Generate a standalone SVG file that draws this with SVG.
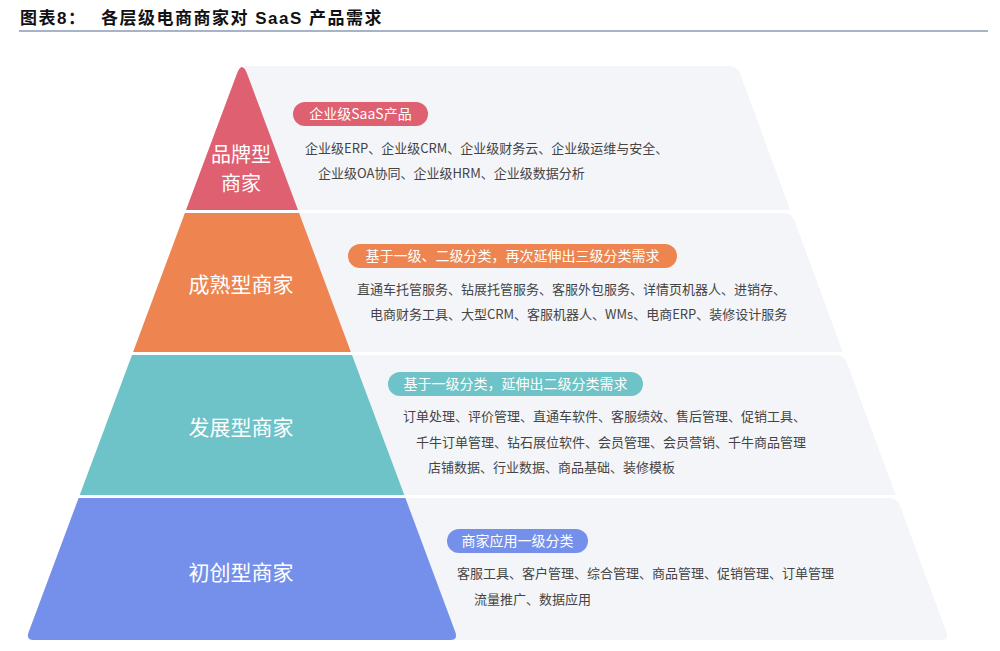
<svg xmlns="http://www.w3.org/2000/svg" width="1000" height="651" viewBox="0 0 1000 651">
<style>
.title{font-family:"Liberation Sans","Noto Sans CJK SC",sans-serif;font-weight:bold;font-size:17px;fill:#111;letter-spacing:1.5px}
.lbl{font-family:"Noto Sans CJK SC",sans-serif;font-size:21px;fill:#fff;text-anchor:middle}
.lbl2{font-family:"Noto Sans CJK SC",sans-serif;font-size:20px;fill:#fff;text-anchor:middle}
.pill{font-family:"Noto Sans CJK SC",sans-serif;font-size:14px;fill:#fff;text-anchor:middle}
.item{font-family:"Noto Sans CJK SC",sans-serif;font-size:13px;fill:#444}
.bg{fill:#f4f5f9}
</style>
<rect width="1000" height="651" fill="#fff"/>
<g id="title">
<text class="title" x="20" y="24">图表8：</text>
<text class="title" x="101" y="24">各层级电商商家对 SaaS 产品需求</text>
<line x1="19" y1="31" x2="988" y2="31" stroke="#8a9bb5" stroke-width="1.5"/>
</g>
<g id="backgrounds">
<path class="bg" d="M244,66 L729,66 Q737,66 740,73.4 L790.3,210 L290,210 Z"/>
<path class="bg" d="M289,213 L784,213 Q791.4,213 794.4,220.4 L842.8,352 L341,352 Z"/>
<path class="bg" d="M342,355 L836,355 Q843.9,355 846.9,362.4 L895.7,495 L394,495 Z"/>
<path class="bg" d="M395,498 L889,498 Q896.8,498 899.8,505.4 L946.4,632 Q949.4,640 941.4,640 L448,640 Z"/>
</g>
<g id="tier-brand">
<path d="M186,210 L236.8,74 Q242,60 247.2,74 L298,210 Z" fill="#df6070"/>
<text class="lbl2" x="241" y="162">品牌型</text>
<text class="lbl2" x="241" y="190.5">商家</text>
<rect x="293" y="102" width="135" height="24" rx="12" fill="#df6070"/>
<text class="pill" x="360.5" y="119">企业级SaaS产品</text>
<text class="item" x="305" y="152.5">企业级ERP、企业级CRM、企业级财务云、企业级运维与安全、</text>
<text class="item" x="318" y="177.5">企业级OA协同、企业级HRM、企业级数据分析</text>
</g>
<g id="tier-mature">
<path d="M184.9,213 L299.1,213 L350.9,352 L133.1,352 Z" fill="#ee844f"/>
<text class="lbl" x="241" y="291.5">成熟型商家</text>
<rect x="348" y="244" width="329" height="24" rx="12" fill="#ee844f"/>
<text class="pill" x="512.5" y="261">基于一级、二级分类，再次延伸出三级分类需求</text>
<text class="item" x="357" y="293.5">直通车托管服务、钻展托管服务、客服外包服务、详情页机器人、进销存、</text>
<text class="item" x="370" y="318.5">电商财务工具、大型CRM、客服机器人、WMs、电商ERP、装修设计服务</text>
</g>
<g id="tier-growth">
<path d="M132,355 L352,355 L404.3,495 L79.7,495 Z" fill="#6dc3c7"/>
<text class="lbl" x="241" y="434.5">发展型商家</text>
<rect x="388" y="372" width="255" height="24" rx="12" fill="#6dc3c7"/>
<text class="pill" x="515.5" y="389">基于一级分类，延伸出二级分类需求</text>
<text class="item" x="403" y="420.5">订单处理、评价管理、直通车软件、客服绩效、售后管理、促销工具、</text>
<text class="item" x="416" y="446.5">千牛订单管理、钻石展位软件、会员管理、会员营销、千牛商品管理</text>
<text class="item" x="428" y="471.5">店铺数据、行业数据、商品基础、装修模板</text>
</g>
<g id="tier-startup">
<path d="M78.6,498 L405.4,498 L455.3,632 Q458.3,640 450.3,640 L33.7,640 Q25.7,640 28.7,632 Z" fill="#7590ea"/>
<text class="lbl" x="241" y="579.5">初创型商家</text>
<rect x="447" y="529" width="141" height="24" rx="12" fill="#7590ea"/>
<text class="pill" x="517.5" y="546">商家应用一级分类</text>
<text class="item" x="457" y="577.5">客服工具、客户管理、综合管理、商品管理、促销管理、订单管理</text>
<text class="item" x="474" y="603.5">流量推广、数据应用</text>
</g>
<g id="connectors"></g>
</svg>
